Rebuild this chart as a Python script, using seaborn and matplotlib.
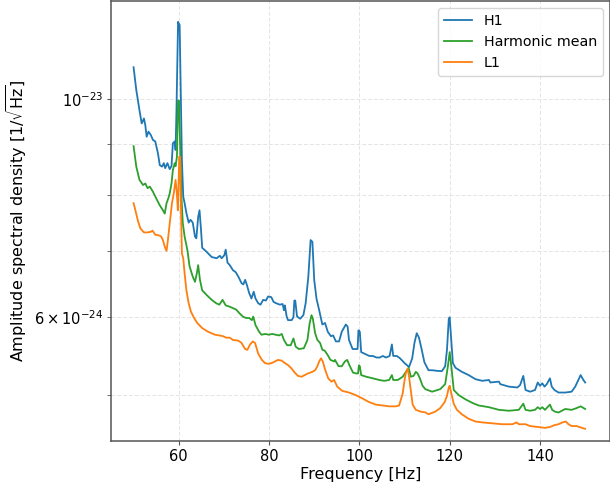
import numpy as np
import pandas as pd
import matplotlib
matplotlib.use("Agg")
import matplotlib.pyplot as plt
import seaborn as sns

# ---------------- data (ASD in units of 1e-24 / sqrt(Hz)) ----------------
h1_freq = [50.0, 50.6, 51.3, 51.8, 52.3, 52.6, 52.9, 53.3, 53.8, 54.3, 54.8, 55.4, 55.8, 56.3,
           56.7, 57.0, 57.5, 58.0, 58.4, 58.7, 59.1, 59.3, 59.5, 59.85, 60.2, 60.4, 60.7, 61.0,
           61.3, 61.7, 62.2, 62.6, 63.1, 63.6, 63.9, 64.3, 64.6, 64.9, 65.2, 66.1, 67.3, 68.4,
           69.1, 69.5, 70.1, 70.4, 70.8, 71.3, 72.0, 72.6, 73.2, 73.9, 74.3, 74.7, 75.1, 75.6,
           76.1, 76.6, 77.0, 77.6, 78.1, 78.7, 79.3, 79.8, 80.5, 81.0, 81.6, 82.4, 83.0, 83.3,
           83.5, 83.9, 84.2, 85.0, 85.4, 85.6, 85.8, 86.2, 86.9, 87.6, 88.1, 88.7, 89.2, 89.6,
           90.0, 90.5, 91.1, 91.8, 92.4, 93.0, 93.7, 94.2, 94.8, 95.5, 96.1, 97.0, 97.4, 97.7,
           98.5, 99.2, 99.6, 99.8, 100.1, 100.4, 101.1, 102.2, 103.0, 103.8, 104.5, 105.2, 105.9,
           106.7, 107.2, 107.5, 108.3, 109.0, 110.0, 111.0, 111.7, 112.2, 112.7, 113.2, 113.7,
           114.4, 115.3, 116.1, 117.6, 118.3, 119.0, 119.4, 119.8, 120.0, 120.4, 120.7, 121.3,
           122.7, 124.2, 125.7, 127.2, 128.7, 129.0, 130.9, 131.2, 133.1, 135.0, 135.6, 136.3,
           136.8, 137.8, 138.9, 139.5, 140.0, 140.5, 141.0, 141.5, 142.2, 142.6, 143.2, 144.1,
           145.6, 147.0, 147.8, 148.5, 149.0, 149.6, 150.0]
h1_asd = [10.78, 10.22, 9.75, 9.45, 9.56, 9.41, 9.16, 9.27, 9.20, 9.09, 9.06, 8.81, 8.57, 8.54,
          8.61, 8.51, 8.61, 8.49, 8.55, 9.02, 9.06, 8.88, 9.75, 11.99, 11.90, 10.54, 8.67, 7.96,
          7.84, 7.66, 7.49, 7.54, 7.49, 7.25, 7.22, 7.59, 7.71, 7.40, 7.06, 7.00, 6.91, 6.89,
          6.93, 6.89, 6.94, 7.03, 6.82, 6.78, 6.70, 6.67, 6.60, 6.50, 6.48, 6.55, 6.47, 6.35,
          6.27, 6.37, 6.27, 6.20, 6.18, 6.25, 6.24, 6.30, 6.29, 6.22, 6.20, 6.18, 6.19, 6.10,
          6.17, 6.01, 5.96, 5.96, 6.00, 6.24, 6.24, 6.01, 5.98, 6.03, 6.20, 6.60, 7.19, 7.16,
          6.55, 6.27, 6.10, 5.90, 5.92, 5.80, 5.74, 5.75, 5.67, 5.67, 5.80, 5.90, 5.87, 5.69,
          5.57, 5.57, 5.57, 5.82, 5.80, 5.53, 5.51, 5.48, 5.48, 5.46, 5.46, 5.48, 5.46,
          5.48, 5.63, 5.48, 5.48, 5.45, 5.39, 5.34, 5.45, 5.65, 5.78, 5.72, 5.59,
          5.40, 5.30, 5.30, 5.29, 5.29, 5.35, 5.56, 5.98, 6.00, 5.64, 5.39, 5.33,
          5.28, 5.24, 5.19, 5.17, 5.18, 5.15, 5.16, 5.13, 5.10, 5.09, 5.12, 5.23,
          5.06, 5.04, 5.06, 5.15, 5.11, 5.14, 5.10, 5.13, 5.20, 5.10, 5.06, 5.03,
          5.03, 5.04, 5.10, 5.18, 5.24, 5.18, 5.15]

hm_freq = [50.0, 50.6, 51.3, 52.1, 52.6, 53.1, 53.6, 54.3, 55.0, 55.8, 56.5, 56.9, 57.3, 57.7,
           58.0, 58.4, 58.7, 59.1, 59.3, 59.6, 59.85, 60.05, 60.3, 60.6, 60.9, 61.3, 61.9, 62.4,
           63.1, 63.6, 64.0, 64.3, 64.7, 65.2, 66.2, 67.3, 68.3, 69.0, 69.7, 70.4, 71.3, 72.0,
           72.7, 73.4, 74.2, 74.9, 75.6, 76.2, 76.5, 77.0, 77.8, 78.3, 79.2, 79.9, 80.7, 81.4,
           82.2, 82.8, 83.3, 84.0, 84.8, 85.4, 85.9, 86.6, 87.7, 88.5, 89.0, 89.4, 89.7, 90.2,
           90.7, 91.3, 91.8, 92.3, 92.9, 93.6, 94.4, 94.6, 95.4, 96.1, 96.8, 97.3, 97.9, 98.6,
           99.3, 99.7, 99.9, 100.1, 100.4, 101.5, 103.0, 104.4, 105.5, 106.6, 107.2, 107.5,
           108.5, 109.6, 110.3, 110.9, 111.4, 112.0, 112.5, 112.9, 113.4, 114.0, 114.6, 116.1,
           117.9, 119.0, 119.6, 120.0, 120.4, 120.9, 122.0, 123.5, 125.0, 126.4, 128.7, 130.9,
           133.1, 135.3, 136.3, 136.8, 137.8, 138.9, 139.5, 140.0, 140.5, 141.1, 142.2, 142.7,
           143.3, 144.1, 145.6, 147.0, 148.1, 149.0, 150.0]
hm_asd = [8.96, 8.54, 8.28, 8.18, 8.21, 8.12, 8.15, 8.05, 7.93, 7.80, 7.71, 7.65, 7.84, 7.93,
          8.02, 8.21, 8.47, 8.61, 8.55, 8.74, 9.97, 9.97, 9.02, 7.96, 7.48, 7.25, 7.03, 6.76,
          6.60, 6.52, 6.65, 6.78, 6.55, 6.39, 6.32, 6.25, 6.20, 6.18, 6.25, 6.17, 6.15, 6.13,
          6.11, 6.06, 6.01, 5.99, 5.99, 5.96, 6.01, 5.89, 5.80, 5.76, 5.77, 5.76, 5.77, 5.76,
          5.75, 5.77, 5.69, 5.62, 5.62, 5.71, 5.60, 5.57, 5.58, 5.69, 5.92, 6.03, 5.98, 5.78,
          5.69, 5.65, 5.56, 5.55, 5.50, 5.43, 5.41, 5.43, 5.35, 5.35, 5.41, 5.43, 5.35, 5.27,
          5.26, 5.26, 5.36, 5.35, 5.24, 5.22, 5.20, 5.18, 5.17, 5.18, 5.24, 5.18,
          5.18, 5.22, 5.28, 5.33, 5.22, 5.23, 5.28, 5.26, 5.20, 5.11, 5.07, 5.04,
          5.07, 5.13, 5.35, 5.53, 5.33, 5.06, 5.00, 4.95, 4.91, 4.88, 4.86, 4.83,
          4.82, 4.83, 4.90, 4.83, 4.82, 4.83, 4.86, 4.84, 4.86, 4.83, 4.89, 4.83,
          4.81, 4.80, 4.84, 4.83, 4.85, 4.87, 4.84]

l1_freq = [50.0, 50.4, 51.0, 51.5, 52.3, 53.0, 53.8, 54.2, 54.8, 55.6, 56.1, 56.5, 56.9, 57.3,
           57.6, 58.0, 58.5, 58.9, 59.3, 59.6, 59.8, 60.0, 60.1, 60.3, 60.5, 60.7, 61.0, 61.3,
           61.7, 62.2, 62.7, 63.4, 64.1, 65.2, 66.5, 68.0, 69.0, 69.8, 70.5, 71.3, 72.0, 73.2,
           73.9, 74.7, 75.2, 75.8, 76.4, 76.9, 77.6, 78.4, 79.1, 79.8, 80.6, 81.3, 82.0, 82.8,
           83.5, 84.3, 85.0, 85.7, 86.4, 87.2, 87.9, 88.6, 89.1, 89.6, 90.2, 90.7, 91.1, 91.5,
           91.9, 92.4, 93.1, 93.8, 94.4, 95.1, 96.2, 97.7, 99.2, 100.7, 102.1, 103.6, 105.1,
           106.6, 108.1, 108.8, 109.6, 109.9, 110.3, 110.7, 111.0, 111.4, 111.8, 112.5, 113.6,
           114.7, 115.3, 116.8, 117.9, 118.9, 119.4, 119.8, 120.0, 120.4, 120.9, 121.6, 122.7,
           124.2, 125.7, 127.2, 129.4, 131.6, 133.9, 134.8, 135.3, 136.8, 137.8, 139.6, 141.1,
           142.2, 143.2, 144.1, 145.0, 145.7, 146.3, 147.0, 148.1, 149.3, 150.0]
l1_asd = [7.84, 7.71, 7.51, 7.39, 7.32, 7.32, 7.33, 7.35, 7.28, 7.27, 7.25, 7.19, 7.08, 7.01,
          7.19, 7.48, 7.84, 8.02, 8.28, 8.00, 7.71, 8.30, 8.74, 8.74, 7.71, 6.97, 6.89, 6.65,
          6.39, 6.20, 6.08, 5.99, 5.92, 5.85, 5.80, 5.76, 5.75, 5.74, 5.72, 5.72, 5.69, 5.68,
          5.65, 5.57, 5.56, 5.63, 5.67, 5.65, 5.51, 5.43, 5.39, 5.38, 5.39, 5.41, 5.43, 5.42,
          5.39, 5.36, 5.32, 5.27, 5.23, 5.22, 5.24, 5.26, 5.27, 5.28, 5.30, 5.35, 5.41, 5.45,
          5.41, 5.31, 5.20, 5.16, 5.18, 5.10, 5.05, 5.03, 5.00, 4.96, 4.92, 4.89, 4.88,
          4.87, 4.87, 4.88, 5.02, 5.14, 5.27, 5.32, 5.22, 5.05, 4.89, 4.83, 4.81,
          4.80, 4.78, 4.81, 4.85, 4.92, 4.99, 5.09, 5.11, 5.01, 4.90, 4.83, 4.78,
          4.73, 4.70, 4.69, 4.68, 4.67, 4.67, 4.69, 4.67, 4.67, 4.65, 4.64, 4.63,
          4.64, 4.66, 4.67, 4.69, 4.70, 4.67, 4.65, 4.65, 4.63, 4.62]

series_names = ["H1", "Harmonic mean", "L1"]
series_colors = ["#1f77b4", "#2ca02c", "#ff7f0e"]
scale = 1e-24

frames = []
for name, f, a in zip(series_names, [h1_freq, hm_freq, l1_freq], [h1_asd, hm_asd, l1_asd]):
    frames.append(pd.DataFrame({"freq": f, "asd": np.asarray(a) * scale, "series": name}))
df = pd.concat(frames, ignore_index=True)

# ---------------- plot ----------------
plt.rcParams["font.family"] = ["DejaVu Sans"]
fig = plt.figure(figsize=(6.10, 4.84), dpi=100)
ax = fig.add_axes([111 / 610, 1 - 441 / 484, 1 - 111 / 610, 440 / 484])

sns.lineplot(data=df, x="freq", y="asd", hue="series", hue_order=series_names,
             palette=dict(zip(series_names, series_colors)), estimator=None,
             sort=False, linewidth=1.3, ax=ax)
ax.set_yscale("log")
ax.set_xlim(45, 155.5)
ax.set_ylim(4.49e-24, 1.259e-23)

ax.grid(True, which="both", color="#e4e4e4", linestyle=(0, (4, 2)), linewidth=0.7)
ax.set_axisbelow(True)
for s in ax.spines.values():
    s.set_color("#555555")
    s.set_linewidth(1.1)
ax.tick_params(which="both", colors="#555555", labelcolor="black", labelsize=10.5,
               length=3, pad=2.5)

ax.set_xlabel("Frequency [Hz]", fontsize=11.5, labelpad=2.5)
ax.set_ylabel(r"Amplitude spectral density [1/$\sqrt{\mathrm{Hz}}$]", fontsize=11.5)

handles, labels = ax.get_legend_handles_labels()
ax.legend(handles, labels, loc="upper right", fontsize=10.3, frameon=True,
          edgecolor="#cccccc", fancybox=True)

fig.savefig("out.png", dpi=100)
